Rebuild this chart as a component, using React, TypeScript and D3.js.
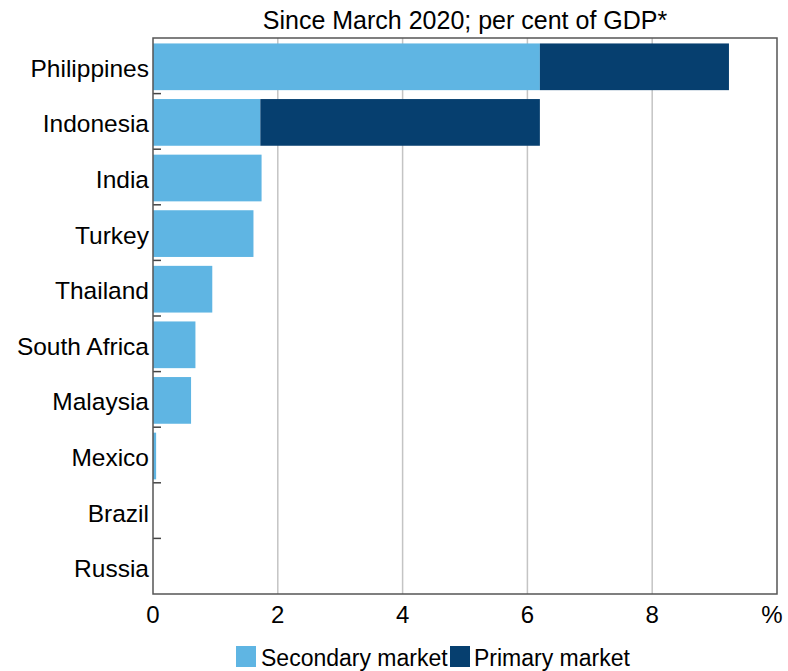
import { scaleBand, scaleLinear } from "d3";

const countries = [
  "Philippines",
  "Indonesia",
  "India",
  "Turkey",
  "Thailand",
  "South Africa",
  "Malaysia",
  "Mexico",
  "Brazil",
  "Russia",
];
const secondary = [6.2, 1.72, 1.74, 1.61, 0.95, 0.68, 0.61, 0.05, 0, 0];
const primary = [3.03, 4.48, 0, 0, 0, 0, 0, 0, 0, 0];
const xTicks = [0, 2, 4, 6, 8];

const LIGHT = "#5fb5e3";
const DARK = "#063f6f";
const FONT = "Liberation Sans, Arial, sans-serif";

export default function App() {
  const width = 788;
  const height = 671;
  const left = 153;
  const right = 777;
  const top = 38;
  const bottom = 594;

  const x = scaleLinear().domain([0, 10]).range([left, right]);
  const y = scaleBand<string>()
    .domain(countries)
    .range([top, bottom])
    .paddingInner(0.16)
    .paddingOuter(0.08);
  const step = y.step();
  const bandTop = (c: string) => top + countries.indexOf(c) * step;

  return (
    <svg
      width={width}
      height={height}
      style={{ position: "absolute", left: 0, top: 0, fontFamily: FONT }}
    >
      <text x={465} y={29} fontSize={25} textAnchor="middle" fill="#000">
        Since March 2020; per cent of GDP*
      </text>

      {xTicks.slice(1).map((t) => (
        <line
          key={`g-${t}`}
          x1={x(t)}
          x2={x(t)}
          y1={top}
          y2={bottom}
          stroke="#c4c4c4"
          strokeWidth={1.5}
        />
      ))}

      {countries.map((c, i) => {
        const s = secondary[i];
        const p = primary[i];
        return (
          <g key={c}>
            {s > 0 && (
              <rect
                x={x(0)}
                y={(y(c) ?? 0) + 1}
                width={x(s) - x(0)}
                height={y.bandwidth()}
                fill={LIGHT}
              />
            )}
            {p > 0 && (
              <rect
                x={x(s)}
                y={(y(c) ?? 0) + 1}
                width={x(s + p) - x(s)}
                height={y.bandwidth()}
                fill={DARK}
              />
            )}
            <text
              x={left - 4}
              y={(y(c) ?? 0) + y.bandwidth() / 2 + 11}
              fontSize={24.5}
              textAnchor="end"
              fill="#000"
            >
              {c}
            </text>
          </g>
        );
      })}

      {countries.slice(1).map((c) => (
        <line
          key={`t-${c}`}
          x1={left}
          x2={left + 8}
          y1={bandTop(c)}
          y2={bandTop(c)}
          stroke="#444"
          strokeWidth={1.5}
        />
      ))}

      <rect
        x={left}
        y={top}
        width={right - left}
        height={bottom - top}
        fill="none"
        stroke="#555"
        strokeWidth={1.5}
      />

      {xTicks.map((t) => (
        <text
          key={`l-${t}`}
          x={x(t)}
          y={623}
          fontSize={24}
          textAnchor="middle"
          fill="#000"
        >
          {t}
        </text>
      ))}
      <text x={right - 5} y={623} fontSize={24} textAnchor="middle" fill="#000">
        %
      </text>

      <rect x={236} y={646} width={20} height={21} fill={LIGHT} />
      <text x={261} y={666} fontSize={23} fill="#000">
        Secondary market
      </text>
      <rect x={450} y={646} width={20} height={21} fill={DARK} />
      <text x={474} y={666} fontSize={23} fill="#000">
        Primary market
      </text>
    </svg>
  );
}
